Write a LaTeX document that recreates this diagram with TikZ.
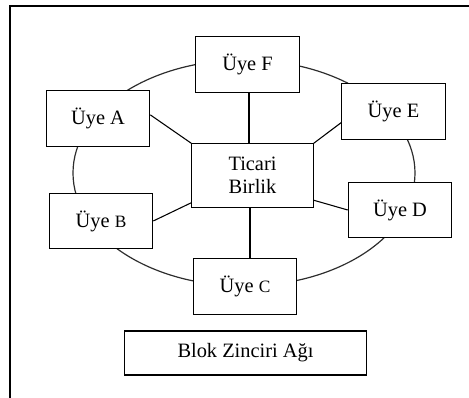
\documentclass[tikz,border=0pt]{standalone}
\usepackage{fontspec}
\setmainfont{Liberation Serif}
\usepackage{tikz}

\tikzset{
  uye/.style={draw, line width=0.9pt, fill=white, minimum width=77.5pt, minimum height=41.5pt, inner sep=0pt, font=\fontsize{15.3}{17}\selectfont},
}

\begin{document}
\begin{tikzpicture}[x=0.75pt,y=0.75pt,yscale=-1,xscale=1]
\useasboundingbox (0,0) rectangle (469,398);

%Frame
\draw [line width=1pt]  (469,6) -- (10,6) -- (10,398) ;

%Shape: Ellipse
\draw [line width=0.9pt, color={rgb, 255:red, 45; green, 45; blue, 45 }]  (244,173) ellipse [x radius=171, y radius=113] ;

% Member Nodes
\node [uye] (f) at (247.5,64.5) {Üye F};
\node [uye] (a) at (98,118.5) {Üye A};
\node [uye] (e) at (393.5,111.5) {Üye E};
\node [uye] (d) at (400,210) {Üye D};
\node [uye] (b) at (101,221) {Üye {\fontsize{13}{15}\selectfont B}};
\node [uye] (c) at (245,286.5) {Üye {\fontsize{13}{15}\selectfont C}};

% Center Node
\node [uye, minimum width=91pt, minimum height=47.5pt, align=center] (tb) at (252.5,175.5) {Ticari\\Birlik};

% Text Node
\node [uye, minimum width=181pt, minimum height=33pt] (ag) at (245.5,353) {Blok Zinciri Ağı};

%Straight Lines
\draw [line width=0.8pt]  (f.south) ++(1.5,0) coordinate (fs) -- (fs |- tb.north) ;
\draw [line width=0.8pt]  (tb.north west) -- (a.4) ;
\draw [line width=0.8pt]  (tb.north east) -- (e.192) ;
\draw [line width=0.8pt]  (tb.204) -- (b.east) ;
\draw [line width=0.8pt]  (tb.338) -- (d.west) ;
\draw [line width=0.8pt]  (c.north) ++(5,0) coordinate (cn) -- (cn |- tb.south) ;

\end{tikzpicture}
\end{document}
